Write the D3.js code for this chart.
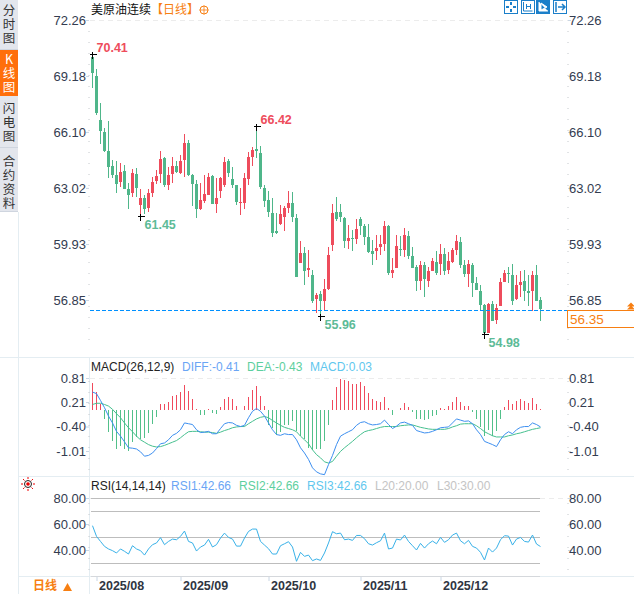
<!DOCTYPE html>
<html>
<head>
<meta charset="utf-8">
<script src="https://cdn.jsdelivr.net/npm/d3@7"></script>
<style>
  html, body { margin: 0; padding: 0; background: #fff; overflow: hidden; }
  text { font-family: "Liberation Sans", "Noto Sans CJK SC", sans-serif; }
  .cjk { font-family: "Noto Sans CJK SC", sans-serif; }
  .tab { writing-mode: vertical-rl; text-orientation: upright; letter-spacing: 1.5px; }
</style>
</head>
<body>
<div id="chart"></div>
<script>
// Daily candle values
const opens = [70.24,69.18,66.76,66.10,65.05,64.23,63.74,63.37,63.96,62.96,
  62.73,63.77,62.09,62.45,61.90,62.76,63.40,63.79,64.69,63.19,
  63.79,64.23,63.86,64.56,65.48,63.74,63.24,61.87,62.32,62.63,
  63.68,62.14,62.85,63.19,64.52,63.53,63.19,62.21,62.21,63.53,
  64.74,65.15,64.93,63.02,62.36,61.66,60.66,61.04,61.44,61.92,
  62.18,61.35,58.91,59.43,58.51,58.24,56.90,57.17,56.77,57.46,
  59.85,61.70,61.68,61.39,60.07,60.25,60.23,61.32,60.93,60.34,
  59.55,59.55,59.77,59.94,60.93,58.36,58.62,59.66,59.61,60.38,
  59.28,58.69,57.92,58.79,57.91,58.47,58.93,58.84,59.39,58.51,
  58.95,59.61,60.03,58.75,58.29,58.79,57.81,57.37,56.59,55.03,
  56.62,55.76,56.53,57.83,58.36,58.24,56.92,57.69,57.87,57.32,
  57.37,58.24,56.86];
const closes = [69.33,67.13,66.17,65.05,64.19,63.74,63.24,63.90,62.98,62.63,
  63.83,63.04,62.45,61.87,62.73,63.33,63.68,64.61,63.19,63.74,
  64.23,63.90,64.52,65.48,63.74,63.24,61.87,62.36,62.69,63.61,
  62.14,62.45,63.59,64.47,63.86,63.19,62.27,62.25,63.57,64.71,
  65.11,65.07,63.09,62.32,61.72,60.56,60.53,61.57,61.92,62.18,
  61.44,58.14,59.43,58.46,58.60,56.80,57.13,56.80,57.46,59.30,
  61.66,61.32,61.44,60.07,60.25,60.18,60.76,60.95,60.34,59.48,
  59.39,59.70,59.94,60.93,58.36,58.51,59.83,59.61,60.43,59.28,
  58.60,57.87,58.79,58.02,58.46,59.00,58.36,59.39,58.47,59.02,
  59.61,60.07,58.75,58.29,58.84,57.81,57.41,56.59,55.03,56.62,
  55.72,56.40,57.83,58.33,58.31,56.82,57.69,57.85,57.32,57.21,
  58.24,56.82,56.35];
const highs = [70.41,69.56,67.68,66.30,66.70,64.56,64.52,64.38,64.29,63.31,
  64.05,64.12,62.96,62.63,62.95,63.64,64.01,65.05,64.74,64.19,
  64.74,64.52,64.84,66.00,65.66,63.79,63.46,63.30,63.74,63.85,
  63.75,63.57,63.63,64.74,64.61,64.16,63.19,63.00,63.83,64.98,
  65.29,66.42,65.33,63.19,62.85,62.45,61.64,62.09,62.00,62.85,
  62.82,61.59,60.10,59.79,59.61,58.51,57.26,57.37,58.02,59.79,
  62.14,62.51,62.14,61.44,60.99,60.71,61.30,61.41,61.04,61.02,
  60.16,60.43,60.43,61.22,60.99,59.15,60.43,60.38,60.80,60.62,
  59.79,58.75,59.00,58.93,58.69,59.15,59.55,59.92,59.72,59.48,
  59.70,60.43,60.29,59.06,59.06,58.88,58.11,57.69,56.64,56.71,
  56.80,56.64,58.05,58.51,58.69,58.82,58.24,58.42,58.51,58.24,
  58.47,58.79,57.01];
const lows = [68.54,67.03,65.44,65.02,63.59,63.57,62.76,63.09,62.98,61.87,
  62.54,62.54,61.45,61.57,61.72,62.54,63.22,63.28,63.09,62.91,
  63.28,63.86,63.77,63.64,63.68,62.03,61.39,61.81,62.20,62.63,
  62.14,61.63,62.49,63.07,63.61,63.00,62.09,61.53,61.85,63.19,
  64.25,64.65,62.95,61.99,61.41,60.34,60.47,60.99,60.67,61.64,
  61.17,58.14,58.91,57.65,58.14,56.71,56.13,55.96,56.31,57.41,
  59.57,61.22,61.17,59.70,59.66,59.57,59.94,60.43,59.88,59.43,
  58.79,59.06,59.33,59.52,58.24,58.05,58.62,59.28,59.24,59.10,
  58.60,57.32,57.41,57.04,57.56,58.47,58.24,58.24,58.24,58.29,
  58.88,59.33,58.60,58.09,57.59,57.04,57.41,56.27,54.98,55.03,
  55.67,55.54,56.53,57.83,57.80,56.59,56.86,57.04,56.77,56.53,
  56.27,56.77,55.72];

// MACD pane
const macdBars = [0.68,0.46,0.17,-0.22,-0.54,-0.75,-0.95,-0.89,-0.96,-1.00,
  -0.78,-0.66,-0.72,-0.68,-0.56,-0.33,-0.16,0.17,0.15,0.22,
  0.36,0.38,0.46,0.63,0.48,0.28,0.03,-0.10,-0.12,0.03,
  -0.06,-0.08,0.08,0.28,0.33,0.28,0.11,0.01,0.11,0.33,
  0.50,0.61,0.36,0.11,-0.35,-0.43,-0.60,-0.53,-0.37,-0.35,
  -0.27,-0.50,-0.64,-0.72,-0.93,-0.98,-0.96,-0.96,-0.77,-0.37,
  0.25,0.59,0.78,0.75,0.73,0.65,0.67,0.71,0.61,0.44,
  0.28,0.23,0.21,0.33,0.05,-0.10,0.01,0.05,0.18,0.09,
  -0.04,-0.22,-0.21,-0.24,-0.22,-0.14,-0.12,0.05,0.03,0.11,
  0.22,0.33,0.21,0.11,0.11,-0.03,-0.20,-0.42,-0.64,-0.48,
  -0.63,-0.50,-0.22,0.08,0.26,0.15,0.23,0.28,0.23,0.19,
  0.30,0.17,0.03];
const diffLine = [0.46,0.42,0.25,0.07,-0.14,-0.31,-0.52,-0.64,-0.78,-0.93,
  -0.94,-0.96,-1.03,-1.14,-1.12,-1.06,-0.95,-0.83,-0.81,-0.73,
  -0.62,-0.57,-0.48,-0.31,-0.33,-0.35,-0.48,-0.55,-0.54,-0.52,
  -0.58,-0.58,-0.45,-0.33,-0.30,-0.31,-0.37,-0.40,-0.37,-0.18,
  -0.02,0.05,-0.02,-0.14,-0.31,-0.48,-0.60,-0.62,-0.58,-0.60,
  -0.60,-0.73,-0.93,-1.06,-1.22,-1.43,-1.53,-1.58,-1.60,-1.35,
  -1.12,-0.85,-0.64,-0.58,-0.53,-0.48,-0.37,-0.30,-0.28,-0.33,
  -0.36,-0.35,-0.33,-0.24,-0.35,-0.45,-0.39,-0.31,-0.29,-0.33,
  -0.37,-0.50,-0.53,-0.56,-0.55,-0.52,-0.48,-0.43,-0.42,-0.41,
  -0.31,-0.21,-0.24,-0.27,-0.26,-0.33,-0.48,-0.60,-0.77,-0.81,
  -0.85,-0.90,-0.73,-0.60,-0.53,-0.58,-0.48,-0.42,-0.40,-0.40,
  -0.31,-0.35,-0.41];
const deaLine = [0.15,0.18,0.18,0.15,0.11,0.03,-0.08,-0.18,-0.31,-0.43,
  -0.53,-0.64,-0.73,-0.79,-0.85,-0.89,-0.91,-0.90,-0.87,-0.83,
  -0.79,-0.75,-0.68,-0.60,-0.53,-0.52,-0.52,-0.53,-0.54,-0.54,
  -0.55,-0.57,-0.54,-0.50,-0.47,-0.43,-0.41,-0.40,-0.40,-0.33,
  -0.27,-0.21,-0.17,-0.15,-0.18,-0.25,-0.31,-0.37,-0.42,-0.45,
  -0.48,-0.53,-0.64,-0.73,-0.83,-0.98,-1.10,-1.18,-1.28,-1.31,
  -1.27,-1.14,-1.02,-0.93,-0.85,-0.77,-0.68,-0.60,-0.53,-0.50,
  -0.48,-0.45,-0.42,-0.40,-0.40,-0.40,-0.40,-0.38,-0.37,-0.36,
  -0.36,-0.39,-0.42,-0.44,-0.46,-0.47,-0.47,-0.47,-0.47,-0.45,
  -0.41,-0.38,-0.34,-0.33,-0.33,-0.33,-0.38,-0.45,-0.53,-0.58,
  -0.63,-0.66,-0.66,-0.66,-0.63,-0.61,-0.58,-0.56,-0.53,-0.50,
  -0.47,-0.45,-0.43];

// RSI pane
const rsiLine = [58.7,50.5,46.6,42.8,40.8,39.5,37.7,40.8,39.0,36.9,
  43.3,40.8,39.5,36.1,40.8,44.1,45.4,49.5,44.1,46.6,
  48.4,47.9,50.5,54.6,46.6,45.4,39.2,42.3,43.8,48.2,
  42.3,44.1,49.2,53.0,49.7,48.4,43.0,43.0,49.2,54.3,
  56.1,56.1,46.6,43.8,41.0,36.9,36.9,43.3,44.8,46.4,
  42.3,31.3,38.2,35.1,36.1,31.8,33.1,32.0,37.7,45.4,
  54.1,52.5,53.0,47.9,48.4,47.4,51.2,51.2,48.7,44.8,
  43.8,45.6,47.1,53.0,40.8,41.5,48.4,47.7,51.5,46.6,
  43.3,40.0,45.1,41.5,44.8,46.9,44.8,49.7,45.9,47.9,
  51.5,53.0,47.1,44.8,47.4,42.8,41.5,38.2,32.3,41.5,
  38.4,41.5,47.9,51.0,50.7,43.8,48.4,49.7,46.6,46.1,
  51.5,44.6,42.66];

const priceTicks = [72.26, 69.18, 66.10, 63.02, 59.93, 56.85];
const macdTicks = [0.81, 0.21, -0.40, -1.01];
const rsiTicks = [80, 60, 40];
const rsiGrid = [80, 70, 50, 30, 20];
const monthIndex = [1, 22, 44, 67, 87];
const monthLabels = ['2025/08', '2025/09', '2025/10', '2025/11', '2025/12'];
const extremes = [
  { i: 0, field: highs, text: '70.41', side: 'up' },
  { i: 41, field: highs, text: '66.42', side: 'up' },
  { i: 12, field: lows, text: '61.45', side: 'down' },
  { i: 57, field: lows, text: '55.96', side: 'down' },
  { i: 98, field: lows, text: '54.98', side: 'down' }
];
const lastPrice = 56.35;
const sideTabs = [
  { label: '分时图', textTop: 4, top: 0, h: 50, active: false },
  { label: 'K线图', textTop: 53, top: 50, h: 46, active: true },
  { label: '闪电图', textTop: 102, top: 96, h: 52, active: false },
  { label: '合约资料', textTop: 155, top: 148, h: 64, active: false }
];

const RED = '#ee4c5c', GREEN = '#4fb68a', BLUE = '#3d8ff0', ORANGE = '#f77f12';
const AXIS_TEXT = '#333c50';
const width = 634, height = 594;

const svg = d3.select('#chart').append('svg')
  .attr('width', width)
  .attr('height', height)
  .attr('viewBox', `0 0 ${width} ${height}`)
  .style('display', 'block');

// Shared x position, pane y scales
const x = d3.scaleLinear().domain([0, 112]).range([92.5, 540.5]);
const yPrice = d3.scaleLinear().domain([56.85, 72.26]).range([300, 20]);
const yMacd = d3.scaleLinear().domain([-1.01, 0.81]).range([451, 378]);
const yRsi = d3.scaleLinear().domain([20, 80]).range([576, 498]);

// Side tabs
const side = svg.append('g');
side.append('rect').attr('x', 0).attr('y', 0).attr('width', 18).attr('height', 212).attr('fill', '#e3e6ed');
sideTabs.forEach(tab => {
  side.append('rect').attr('x', 0).attr('y', tab.top).attr('width', 18).attr('height', tab.h)
    .attr('fill', tab.active ? '#ff6f0b' : 'none').attr('stroke', 'none');
  if (!tab.active) {
    side.append('line').attr('x1', 0).attr('x2', 18).attr('y1', tab.top + tab.h - 0.5).attr('y2', tab.top + tab.h - 0.5)
      .attr('stroke', '#cfd5df');
  }
  side.append('text').attr('class', 'cjk tab').attr('x', 9).attr('y', tab.textTop)
    .attr('font-size', 12.5).attr('fill', tab.active ? '#fff' : '#333').text(tab.label);
});

// Pane separators and frame lines
const frame = svg.append('g').attr('stroke', '#e4edf2').attr('shape-rendering', 'crispEdges');
[[18.5, 212, 18.5, 594], [89.5, 358, 89.5, 594], [0, 357.5, 634, 357.5], [19, 476.5, 634, 476.5], [19, 576.5, 634, 576.5]]
  .forEach(l => frame.append('line').attr('x1', l[0]).attr('y1', l[1]).attr('x2', l[2]).attr('y2', l[3]));

// Dashed top guide of each pane
[[20, 568], [378, 568], [498, 568]].forEach(g => {
  svg.append('line').attr('x1', 90).attr('x2', g[1]).attr('y1', g[0] + 0.5).attr('y2', g[0] + 0.5)
    .attr('stroke', '#ececec').attr('stroke-dasharray', '5 4');
});

// Left and right value axes through d3.axis, then restyled
function drawAxes(scale, ticks, fmt, top, bottom) {
  [[89, d3.axisLeft, -4], [568, d3.axisRight, 1]].forEach(a => {
    const g = svg.append('g').attr('transform', `translate(${a[0]},0)`)
      .call(a[1](scale).tickValues(ticks).tickFormat(fmt).tickSize(3).tickPadding(a[2] < 0 ? 0 : -2));
    g.select('.domain').remove();
    g.selectAll('.tick line').attr('stroke', '#c9d6e4');
    g.selectAll('.tick text').attr('font-size', 13).attr('fill', AXIS_TEXT)
      .attr('font-family', '"Liberation Sans", sans-serif');
    g.append('line').attr('x1', 0).attr('x2', 0).attr('y1', top).attr('y2', bottom)
      .attr('stroke', '#c4c8cc').attr('stroke-dasharray', '1 10');
  });
}
drawAxes(yPrice, priceTicks, d => d.toFixed(2), 31, 350);
drawAxes(yMacd, macdTicks, d => d.toFixed(2), 381, 472);
drawAxes(yRsi, rsiTicks, d => d.toFixed(2), 503, 571);

// Candles
const candles = svg.append('g').attr('shape-rendering', 'crispEdges');
const candleColor = i => closes[i] >= opens[i] ? RED : GREEN;
candles.selectAll('.wick')
  .data(d3.range(opens.length))
  .enter()
  .append('line')
  .attr('class', 'wick')
  .attr('x1', i => Math.floor(x(i)) + 0.5)
  .attr('x2', i => Math.floor(x(i)) + 0.5)
  .attr('y1', i => yPrice(highs[i]))
  .attr('y2', i => yPrice(lows[i]))
  .attr('stroke', candleColor);
candles.selectAll('.body')
  .data(d3.range(opens.length))
  .enter()
  .append('rect')
  .attr('class', 'body')
  .attr('x', i => Math.floor(x(i)) - 1)
  .attr('width', 3)
  .attr('y', i => yPrice(Math.max(opens[i], closes[i])))
  .attr('height', i => Math.max(1, Math.abs(yPrice(opens[i]) - yPrice(closes[i]))))
  .attr('fill', candleColor);

// High and low markers
extremes.forEach(e => {
  const px = Math.floor(x(e.i)) + 0.5;
  const py = Math.round(yPrice(e.field[e.i])) + 0.5;
  svg.append('path').attr('d', `M${px - 3},${py}H${px + 4}M${px},${py - 3}V${py + 4}`)
    .attr('stroke', '#000').attr('fill', 'none').attr('shape-rendering', 'crispEdges');
  svg.append('text')
    .attr('x', px + 4)
    .attr('y', e.side === 'up' ? py - 3 : py + 12)
    .attr('font-size', 12.5)
    .attr('font-weight', 'bold')
    .attr('fill', e.side === 'up' ? RED : '#5dbb97')
    .text(e.text);
});

// Last price line, box and arrow
const yLast = Math.ceil(yPrice(lastPrice)) + 0.5;
svg.append('line').attr('x1', 90).attr('x2', 568).attr('y1', yLast).attr('y2', yLast)
  .attr('stroke', '#0090ff').attr('stroke-width', 1.2).attr('stroke-dasharray', '4 2');
svg.append('rect').attr('x', 567.5).attr('y', yLast).attr('width', 70).attr('height', 17)
  .attr('fill', '#fff').attr('stroke', ORANGE).attr('shape-rendering', 'crispEdges');
svg.append('text').attr('x', 570).attr('y', yLast + 13).attr('font-size', 13.5).attr('fill', ORANGE).text(lastPrice.toFixed(2));
svg.append('path').attr('d', `M627,${yLast - 1}L631,${yLast - 5}L635,${yLast - 1}ZM627,${yLast - 4}L631,${yLast - 8}L635,${yLast - 4}Z`)
  .attr('fill', ORANGE);

// Title row
const title = svg.append('text').attr('x', 91).attr('y', 14).attr('font-size', 12);
title.append('tspan').attr('class', 'cjk').attr('fill', '#111').text('美原油连续');
title.append('tspan').attr('class', 'cjk').attr('fill', ORANGE).text('【日线】');
svg.append('circle').attr('cx', 204).attr('cy', 10).attr('r', 4).attr('fill', 'none').attr('stroke', ORANGE);
svg.append('path').attr('d', 'M199.5,10H208.5M204,5.5V14.5').attr('stroke', ORANGE).attr('stroke-width', 0.8);

// Toolbar buttons, top right
const toolX = [504, 520.5, 536, 553];
toolX.forEach((tx, k) => {
  const b = svg.append('g').attr('transform', `translate(${tx},0)`);
  b.append('rect').attr('x', 0.5).attr('y', 0.5).attr('width', 13).attr('height', 13)
    .attr('fill', k === 2 ? '#1b7fc9' : '#fff').attr('stroke', '#1b7fc9').attr('shape-rendering', 'crispEdges');
  const c = k === 2 ? '#fff' : '#1b7fc9';
  if (k === 0) b.append('path').attr('d', 'M7,2V5M7,9V12M2,7H5M9,7H12').attr('stroke', c).attr('stroke-width', 2);
  if (k === 1) b.append('path').attr('d', 'M3,2V11H12M6,4V9M10,4V9M6.5,6.5H9.5').attr('stroke', c).attr('fill', 'none');
  if (k === 2) b.append('path').attr('d', 'M3,2V11H12M5,3L11,7L5,10Z').attr('stroke', c).attr('fill', c);
  if (k === 3) b.append('path').attr('d', 'M3,2V12M5,7H12M9,4L12,7L9,10').attr('stroke', c).attr('fill', 'none').attr('stroke-width', 1.5);
});

// MACD pane
const macdY0 = yMacd(0);
svg.append('g').selectAll('line')
  .data(d3.range(macdBars.length))
  .enter()
  .append('line')
  .attr('x1', i => Math.floor(x(i)) + 0.5)
  .attr('x2', i => Math.floor(x(i)) + 0.5)
  .attr('y1', macdY0)
  .attr('y2', i => yMacd(macdBars[i]))
  .attr('stroke', i => macdBars[i] >= 0 ? '#f04a5c' : '#52c08a')
  .attr('shape-rendering', 'crispEdges');

const lineAt = (scale) => d3.line().x((d, i) => x(i)).y(d => scale(d));
svg.append('path').datum(deaLine).attr('d', lineAt(yMacd)).attr('fill', 'none').attr('stroke', '#46c08f').attr('stroke-width', 1);
svg.append('path').datum(diffLine).attr('d', lineAt(yMacd)).attr('fill', 'none').attr('stroke', BLUE).attr('stroke-width', 1);

function legendRow(y, items) {
  items.forEach(it => {
    svg.append('text').attr('x', it.x).attr('y', y).attr('font-size', 12).attr('fill', it.color).text(it.text);
  });
}
legendRow(371, [
  { text: 'MACD(26,12,9)', color: '#222', x: 91 },
  { text: 'DIFF:-0.41', color: '#6aa5f5', x: 182 },
  { text: 'DEA:-0.43', color: '#5dcf9e', x: 247 },
  { text: 'MACD:0.03', color: '#5fc7ee', x: 310 }
]);

// RSI pane
const rsiGridG = svg.append('g').attr('shape-rendering', 'crispEdges');
rsiGrid.forEach(v => {
  rsiGridG.append('line').attr('x1', 91).attr('x2', 540).attr('y1', yRsi(v) + 0.5).attr('y2', yRsi(v) + 0.5)
    .attr('stroke', v === 20 ? '#d5d8dc' : '#bdbdbd');
});
svg.append('path').datum(rsiLine).attr('d', lineAt(yRsi)).attr('fill', 'none').attr('stroke', '#38b1e8').attr('stroke-width', 1);

legendRow(490, [
  { text: 'RSI(14,14,14)', color: '#222', x: 91 },
  { text: 'RSI1:42.66', color: '#6aa5f5', x: 171 },
  { text: 'RSI2:42.66', color: '#5dcf9e', x: 239 },
  { text: 'RSI3:42.66', color: '#5fc7ee', x: 307 },
  { text: 'L20:20.00', color: '#c4c4c4', x: 375 },
  { text: 'L30:30.00', color: '#c4c4c4', x: 437 }
]);

// Small sun icon beside the RSI pane
const sun = svg.append('g').attr('transform', 'translate(28,484)');
sun.append('circle').attr('r', 3.5).attr('fill', '#fff').attr('stroke', '#222');
sun.append('circle').attr('r', 1.8).attr('fill', '#e00');
d3.range(8).forEach(k => {
  const a = k * Math.PI / 4;
  sun.append('line').attr('x1', 5 * Math.cos(a)).attr('y1', 5 * Math.sin(a))
    .attr('x2', 7 * Math.cos(a)).attr('y2', 7 * Math.sin(a)).attr('stroke', '#e00');
});

// Month axis
const xAxis = svg.append('g').attr('transform', 'translate(0,577)')
  .call(d3.axisBottom(x).tickValues(monthIndex).tickSize(4).tickPadding(-1)
    .tickFormat((d, k) => monthLabels[k]));
xAxis.select('.domain').remove();
xAxis.selectAll('.tick line').attr('stroke', '#c9d6e4');
xAxis.selectAll('.tick text')
  .attr('text-anchor', 'start')
  .attr('x', 2)
  .attr('y', 13)
  .attr('dy', 0)
  .attr('font-size', 12.5)
  .attr('font-weight', 'bold')
  .attr('fill', '#2f3542')
  .attr('font-family', '"Liberation Sans", sans-serif');

// Bottom left period switch
svg.append('text').attr('class', 'cjk').attr('x', 33).attr('y', 589.5).attr('font-size', 12)
  .attr('font-weight', 'bold').attr('fill', ORANGE).text('日线');
svg.append('path').attr('d', 'M63,591L67.5,583L72,591Z').attr('fill', ORANGE);
</script>
</body>
</html>
